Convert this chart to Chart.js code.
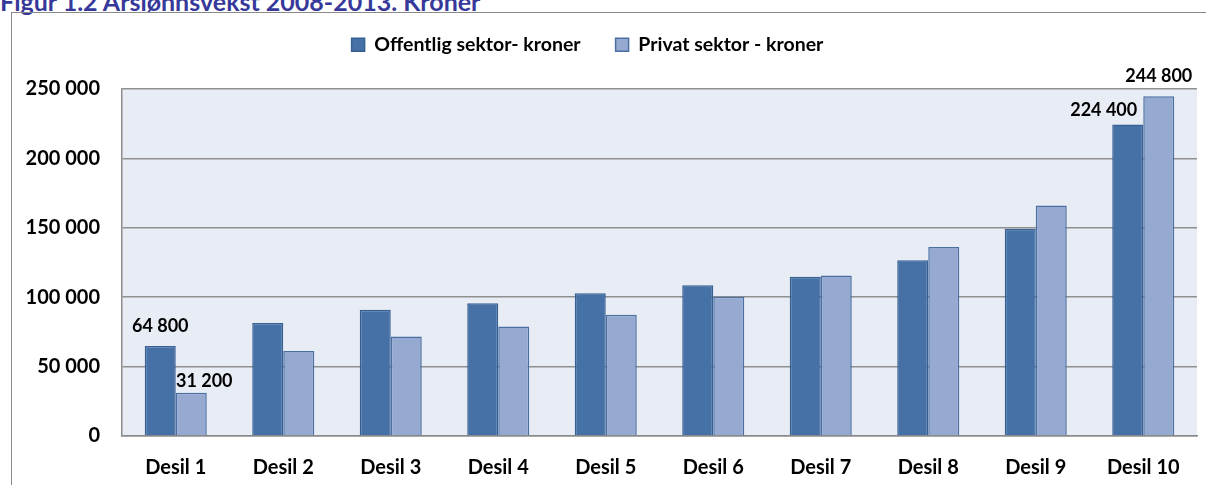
<!DOCTYPE html>
<html>
<head>
<meta charset="utf-8">
<script src="https://cdn.jsdelivr.net/npm/chart.js@4.4.1/dist/chart.umd.min.js"></script>
<style>
  body { margin: 0; background: #fff; overflow: hidden; }
  #wrap { position: relative; width: 1206px; height: 485px; }
  #tittel {
    position: absolute; left: 0; top: -11px; margin: 0;
    font: bold 25px Lato, sans-serif; line-height: 25px; color: #37399A; white-space: nowrap;
  }
  #ramme {
    position: absolute; left: 11px; top: 12px; width: 1200px; height: 480px;
    border-top: 1.5px solid #8a8a8a; border-left: 1.5px solid #8a8a8a;
  }
  canvas { position: absolute; left: 0; top: 0; }
</style>
</head>
<body>
<div id="wrap">
  <div id="tittel">Figur 1.2 Årslønnsvekst 2008-2013. Kroner</div>
  <div id="ramme"></div>
  <canvas id="lonnChart" width="1206" height="485"></canvas>
</div>
<script>
// Data lest av figuren
const desiler = ['Desil 1', 'Desil 2', 'Desil 3', 'Desil 4', 'Desil 5', 'Desil 6', 'Desil 7', 'Desil 8', 'Desil 9', 'Desil 10'];
const offentlig = [64800, 81400, 91000, 95700, 102900, 108600, 114800, 126700, 149300, 224400];
const privat = [31200, 61200, 71700, 78900, 87400, 100300, 115700, 136200, 166000, 244800];
const yTicks = [0, 50000, 100000, 150000, 200000, 250000];

// Hvilke søyler som har verdietikett (datasett, indeks) og forskyvning i piksler
const etiketter = [
    { ds: 0, i: 0, dx: 0, dy: -20 },
    { ds: 1, i: 0, dx: 13, dy: -12 },
    { ds: 0, i: 9, dx: -24, dy: -14 },
    { ds: 1, i: 9, dx: 0, dy: -20 }
];

const formaterTall = (v) => String(v).replace(/\B(?=(\d{3})+(?!\d))/g, ' ');

// Bakgrunn i plottområdet
const plotBakgrunn = {
    id: 'plotBakgrunn',
    beforeDraw(chart) {
        const a = chart.chartArea;
        const ctx = chart.ctx;
        ctx.save();
        ctx.fillStyle = '#E8ECF4';
        ctx.fillRect(a.left, a.top, a.right - a.left, a.bottom - a.top);
        ctx.restore();
    }
};

// Fast høyde på legenden slik at plottet starter riktig sted, og litt forskyvning mot venstre
const legendeHoyde = {
    id: 'legendeHoyde',
    beforeUpdate(chart) {
        const leg = chart.legend;
        if (leg && !leg._patched) {
            const fit = leg.fit;
            leg.fit = function() {
                fit.call(this);
                this.height = 89;
            };
            leg._patched = true;
        }
    },
    afterLayout(chart) {
        chart.legend.left -= 11;
        chart.legend.right -= 11;
    }
};

// Verdietiketter på utvalgte søyler
const verdiEtiketter = {
    id: 'verdiEtiketter',
    afterDatasetsDraw(chart) {
        const ctx = chart.ctx;
        ctx.save();
        ctx.font = 'bold 18px Lato, sans-serif';
        ctx.fillStyle = '#000';
        ctx.textAlign = 'center';
        ctx.textBaseline = 'middle';
        etiketter.forEach(function(e) {
            const bar = chart.getDatasetMeta(e.ds).data[e.i];
            const verdi = chart.data.datasets[e.ds].data[e.i];
            ctx.fillText(formaterTall(verdi), bar.x + e.dx, bar.y + e.dy);
        });
        ctx.restore();
    }
};

const ctx = document.getElementById('lonnChart').getContext('2d');

new Chart(ctx, {
    type: 'bar',
    data: {
        labels: desiler,
        datasets: [{
            label: 'Offentlig sektor- kroner',
            data: offentlig,
            backgroundColor: '#4571A7',
            borderColor: '#365F94',
            borderWidth: 1.5,
            categoryPercentage: 0.577,
            barPercentage: 1.0
        }, {
            label: 'Privat sektor - kroner',
            data: privat,
            backgroundColor: '#95A9D1',
            borderColor: '#4A6FA3',
            borderWidth: 1.5,
            categoryPercentage: 0.577,
            barPercentage: 1.0
        }]
    },
    options: {
        responsive: false,
        animation: false,
        layout: { padding: { left: 0, right: 9, top: 0, bottom: 0 } },
        scales: {
            x: {
                grid: { display: false, drawTicks: false },
                border: { display: true, color: '#8a8a8a', width: 1.5 },
                ticks: {
                    color: '#000',
                    font: { family: 'Lato', weight: 'bold', size: 20 },
                    padding: 20,
                    maxRotation: 0
                },
                afterFit(scale) { scale.height = 49; }
            },
            y: {
                min: 0,
                max: 250000,
                afterBuildTicks(scale) { scale.ticks = yTicks.map(v => ({ value: v })); },
                grid: { color: '#8f8f8f', lineWidth: 1.5, drawTicks: false },
                border: { display: true, color: '#8a8a8a', width: 1.5 },
                ticks: {
                    color: '#000',
                    font: { family: 'Lato', weight: 'bold', size: 20 },
                    padding: 22,
                    callback: (v) => formaterTall(v)
                },
                afterFit(scale) { scale.width = 122; }
            }
        },
        plugins: {
            legend: {
                position: 'top',
                labels: {
                    color: '#000',
                    font: { family: 'Lato', weight: 'bold', size: 19.5 },
                    boxWidth: 13,
                    boxHeight: 13,
                    padding: 35
                }
            },
            tooltip: { enabled: false }
        }
    },
    plugins: [plotBakgrunn, legendeHoyde, verdiEtiketter]
});
</script>
</body>
</html>
